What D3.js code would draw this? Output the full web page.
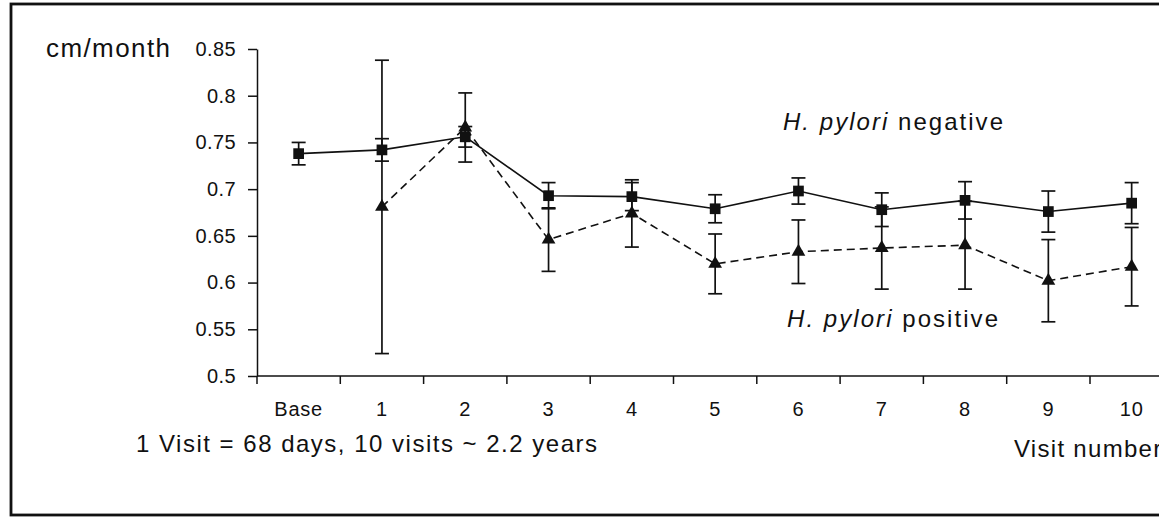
<!DOCTYPE html>
<html>
<head>
<meta charset="utf-8">
<script src="https://cdn.jsdelivr.net/npm/d3@7"></script>
<style>
  body { margin: 0; background: #fff; }
  svg { display: block; font-family: "Liberation Sans", Arial, sans-serif; }
</style>
</head>
<body>
<svg id="chart" width="1159" height="517"></svg>
<script>
// visit categories and tick labels
const categories = ["Base", "1", "2", "3", "4", "5", "6", "7", "8", "9", "10"];
const yTicks = [0.5, 0.55, 0.6, 0.65, 0.7, 0.75, 0.8, 0.85];
const yTickLabels = ["0.5", "0.55", "0.6", "0.65", "0.7", "0.75", "0.8", "0.85"];

// H. pylori negative (squares, solid line)
const negMean = [0.738, 0.742, 0.756, 0.693, 0.692, 0.679, 0.698, 0.678, 0.688, 0.676, 0.685];
const negErr  = [0.012, 0.012, 0.011, 0.014, 0.015, 0.015, 0.014, 0.018, 0.020, 0.022, 0.022];

// H. pylori positive (triangles, dashed line), no baseline value
const posMean = [null, 0.681, 0.766, 0.646, 0.674, 0.620, 0.633, 0.637, 0.640, 0.602, 0.617];
const posErr  = [null, 0.157, 0.037, 0.034, 0.036, 0.032, 0.034, 0.044, 0.047, 0.044, 0.042];

const svg = d3.select("#chart");
const ink = "#111";

// frame round the figure (right edge is cut off in the original)
svg.append("rect")
  .attr("x", 11).attr("y", 4)
  .attr("width", 1200).attr("height", 511)
  .attr("fill", "none").attr("stroke", ink).attr("stroke-width", 2.8);

// scales
const x = d3.scaleBand().domain(categories).range([257, 257 + 11 * 83.3]).padding(0);
const y = d3.scaleLinear().domain([0.5, 0.85]).range([376, 49]);
const cx = c => x(c) + x.bandwidth() / 2;

// y axis
const yAxis = svg.append("g")
  .attr("transform", "translate(257,0)")
  .call(d3.axisLeft(y).tickValues(yTicks)
    .tickFormat((d, i) => yTickLabels[i])
    .tickSize(9).tickSizeOuter(0).tickPadding(12));
yAxis.selectAll("path, line").attr("stroke", ink).attr("stroke-width", 1.5);
yAxis.selectAll("text").attr("font-size", 20).attr("fill", ink)
  .attr("letter-spacing", 0.4)
  .attr("font-family", "'Liberation Sans', Arial, sans-serif");

// x axis: labels centred in bands, ticks on the band edges
const xAxis = svg.append("g")
  .attr("transform", "translate(0,376)")
  .call(d3.axisBottom(x).tickSize(0).tickPadding(26).tickSizeOuter(0));
xAxis.select("path").remove();
xAxis.selectAll("text").attr("font-size", 20).attr("fill", ink)
  .attr("letter-spacing", 0.8)
  .attr("font-family", "'Liberation Sans', Arial, sans-serif");

svg.append("line")
  .attr("x1", 257).attr("x2", 1159).attr("y1", 376).attr("y2", 376)
  .attr("stroke", ink).attr("stroke-width", 1.5);
svg.append("g").selectAll("line")
  .data(categories)
  .join("line")
  .attr("x1", d => x(d)).attr("x2", d => x(d))
  .attr("y1", 376).attr("y2", 384)
  .attr("stroke", ink).attr("stroke-width", 1.5);

// series builder
function drawSeries(means, errs, dash, symbolType, symbolSize) {
  const pts = categories.map((c, i) => ({ c, m: means[i], e: errs[i] }))
    .filter(d => d.m != null);

  const g = svg.append("g");

  // error bars
  const eb = g.selectAll("g.eb").data(pts).join("g").attr("class", "eb");
  eb.append("line")
    .attr("x1", d => cx(d.c)).attr("x2", d => cx(d.c))
    .attr("y1", d => y(d.m - d.e)).attr("y2", d => y(d.m + d.e))
    .attr("stroke", ink).attr("stroke-width", 1.7);
  [1, -1].forEach(s => {
    eb.append("line")
      .attr("x1", d => cx(d.c) - 7).attr("x2", d => cx(d.c) + 7)
      .attr("y1", d => y(d.m + s * d.e)).attr("y2", d => y(d.m + s * d.e))
      .attr("stroke", ink).attr("stroke-width", 1.7);
  });

  // connecting line
  g.append("path")
    .datum(pts)
    .attr("d", d3.line().x(d => cx(d.c)).y(d => y(d.m)))
    .attr("fill", "none").attr("stroke", ink).attr("stroke-width", 1.6)
    .attr("stroke-dasharray", dash);

  // markers
  g.selectAll("path.mk").data(pts).join("path")
    .attr("class", "mk")
    .attr("transform", d => `translate(${cx(d.c)},${y(d.m)})`)
    .attr("d", d3.symbol().type(symbolType).size(symbolSize))
    .attr("fill", ink);
}

drawSeries(posMean, posErr, "8,5", d3.symbolTriangle, 82);
drawSeries(negMean, negErr, null, d3.symbolSquare, 115);

// texts
svg.append("text")
  .attr("x", 46).attr("y", 57)
  .attr("font-size", 26).attr("fill", ink)
  .attr("textLength", 124).attr("lengthAdjust", "spacing")
  .text("cm/month");

const negLabel = svg.append("text")
  .attr("x", 783).attr("y", 130)
  .attr("font-size", 24).attr("fill", ink)
  .attr("textLength", 220).attr("lengthAdjust", "spacing");
negLabel.append("tspan").attr("font-style", "italic").text("H. pylori");
negLabel.append("tspan").text(" negative");

const posLabel = svg.append("text")
  .attr("x", 787).attr("y", 327)
  .attr("font-size", 24).attr("fill", ink)
  .attr("textLength", 211).attr("lengthAdjust", "spacing");
posLabel.append("tspan").attr("font-style", "italic").text("H. pylori");
posLabel.append("tspan").text(" positive");

// the axis title runs off the right edge, as in the original
svg.append("text")
  .attr("x", 1014).attr("y", 457)
  .attr("font-size", 24).attr("fill", ink)
  .attr("letter-spacing", 1.3)
  .text("Visit number");

svg.append("text")
  .attr("x", 136).attr("y", 452)
  .attr("font-size", 24).attr("fill", ink)
  .attr("textLength", 461).attr("lengthAdjust", "spacing")
  .text("1 Visit = 68 days, 10 visits ~ 2.2 years");
</script>
</body>
</html>
